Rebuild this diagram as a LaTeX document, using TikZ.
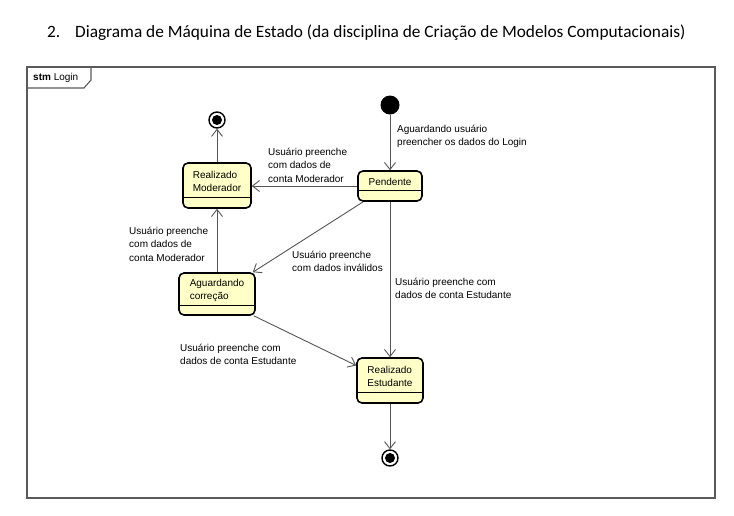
\documentclass[tikz,border=0pt]{standalone}
\usepackage{fontspec}
\setmainfont{Liberation Sans}
\newfontfamily\titlefont{Carlito}
\usetikzlibrary{arrows.meta,calc}
\definecolor{statefill}{RGB}{255,255,200}
\definecolor{linegray}{RGB}{85,85,85}
\definecolor{framegray}{RGB}{90,90,90}
\begin{document}
\begin{tikzpicture}[x=1pt,y=-1pt,
  statebox/.style={draw=black, line width=1.6pt, rounded corners=5pt, fill=statefill, inner sep=0pt},
  statetext/.style={font=\fontsize{10}{13}\selectfont, align=left, inner sep=0pt},
  lbl/.style={font=\fontsize{10}{13.5}\selectfont, align=left, inner sep=0pt, anchor=north west},
  trans/.style={draw=linegray, line width=0.9pt, -{Straight Barb[length=7pt,width=11pt,line width=0.9pt]}},
  initst/.style={circle, fill=black, minimum size=19pt, inner sep=0pt},
  finalst/.style={circle, draw=black, line width=1.4pt, fill=white, minimum size=16pt, inner sep=0pt,
    path picture={\fill[black] (path picture bounding box.center) circle (5pt);}}
]
\useasboundingbox (0,0) rectangle (734,515);
\fill[white] (0,0) rectangle (734,515);

% title
\node[anchor=base west, inner sep=0pt, font=\titlefont\fontsize{17.3}{20}\selectfont] (tnum) at (47,37) {2.};
\node[anchor=base west, inner sep=0pt, font=\titlefont\fontsize{17.3}{20}\selectfont] (title) at (75,37) {Diagrama de Máquina de Estado (da disciplina de Criação de Modelos Computacionais)};

% frame
\draw[framegray, line width=1.1pt] (27,67) rectangle (715,498);
\draw[framegray, line width=1.1pt] (27,88) -- (84,88) -- (91,80) -- (91,67);
\node[anchor=west, inner sep=0pt, font=\fontsize{10}{12}\selectfont] (frametag) at (33,77.5) {\textbf{stm} Login};

% states
\node[initst] (init) at (390,105) {};
\node[finalst] (ftop) at (217,120) {};
\node[finalst] (fbot) at (390,458) {};

\node[statebox, minimum width=64pt, minimum height=30pt] (pend) at (390,186) {};
\draw[black, line width=1pt] (pend.west |- 0,190) -- (pend.east |- 0,190);
\node[statetext] (pendt) at (390,181.5) {Pendente};

\node[statebox, minimum width=68pt, minimum height=45pt] (mod) at (217,185.5) {};
\draw[black, line width=1pt] (mod.west |- 0,197) -- (mod.east |- 0,197);
\node[statetext] (modt) at (217,181) {Realizado\\Moderador};

\node[statebox, minimum width=76pt, minimum height=42pt] (agu) at (217,294) {};
\draw[black, line width=1pt] (agu.west |- 0,305) -- (agu.east |- 0,305);
\node[statetext] (agut) at (217,290) {Aguardando\\correção};

\node[statebox, minimum width=66pt, minimum height=45pt] (est) at (390,380.5) {};
\draw[black, line width=1pt] (est.west |- 0,392) -- (est.east |- 0,392);
\node[statetext] (estt) at (390,376) {Realizado\\Estudante};

% transitions
\draw[trans] (init) -- (pend);
\draw[trans] (pend.west) -- (mod.east |- pend.west);
\draw[trans] ($(pend.south west)+(6,0)$) -- ($(agu.north east)+(-3,0)$);
\draw[trans] (pend) -- (est);
\draw[trans] (agu) -- (mod);
\draw[trans] ($(agu.south east)+(-2,0)$) -- ($(est.west)+(0,-15)$);
\draw[trans] (mod) -- (ftop);
\draw[trans] (est) -- (fbot);

% labels
\node[lbl] (l1) at (397,124.5) {Aguardando usuário\\preencher os dados do Login};
\node[lbl] (l2) at (268,147.5) {Usuário preenche\\com dados de\\conta Moderador};
\node[lbl] (l3) at (292,250.5) {Usuário preenche\\com dados inválidos};
\node[lbl] (l4) at (395,277.5) {Usuário preenche com\\dados de conta Estudante};
\node[lbl] (l5) at (129,226.5) {Usuário preenche\\com dados de\\conta Moderador};
\node[lbl] (l6) at (180,343.5) {Usuário preenche com\\dados de conta Estudante};
\end{tikzpicture}
\end{document}
